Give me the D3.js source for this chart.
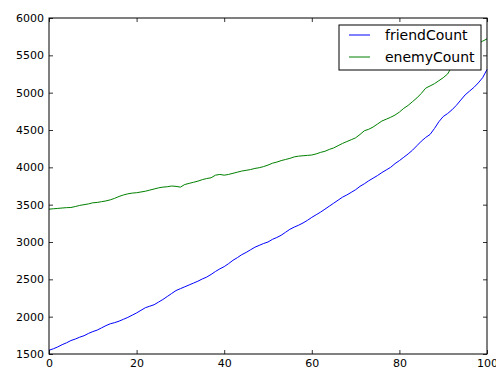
<!DOCTYPE html>
<style>
body {
    margin: 0;
    background: white;
}

text {
    font-family: "DejaVu Sans", sans-serif;
    fill: black;
}
</style>

<body>
    <script src="https://cdn.jsdelivr.net/npm/d3@7"></script>
    <div id="chart"></div>
    <script>
    // datos, x = 0..100
    var seriesNames = ["friendCount", "enemyCount"];
    var seriesColors = ["#0000ff", "#008000"];

    var friendCount = [
        1550, 1570, 1595, 1625, 1650, 1680, 1700, 1725, 1745, 1775,
        1800, 1820, 1850, 1880, 1905, 1920, 1940, 1965, 1990, 2020,
        2050, 2085, 2120, 2140, 2160, 2195, 2230, 2270, 2310, 2350,
        2375, 2400, 2425, 2450, 2475, 2505, 2530, 2565, 2605, 2640,
        2670, 2710, 2755, 2790, 2830, 2860, 2895, 2930, 2955, 2980,
        3000, 3035, 3060, 3090, 3130, 3170, 3200, 3225, 3255, 3290,
        3330, 3365, 3400, 3440, 3480, 3520, 3560, 3600, 3630, 3665,
        3700, 3745, 3780, 3820, 3855, 3890, 3930, 3965, 4000, 4050,
        4090, 4135, 4180, 4230, 4290, 4350, 4400, 4440, 4520, 4610,
        4680, 4720, 4770, 4830, 4900, 4970, 5020, 5070, 5130, 5200,
        5310
    ];

    var enemyCount = [
        3440, 3445, 3450, 3455, 3460, 3462, 3475, 3490, 3500, 3510,
        3525, 3530, 3540, 3550, 3565, 3585, 3610, 3630, 3645, 3655,
        3660, 3670, 3680, 3695, 3710, 3725, 3735, 3740, 3750, 3745,
        3735, 3770, 3785, 3800, 3815, 3835, 3850, 3860, 3895, 3905,
        3895, 3905, 3920, 3935, 3950, 3960, 3970, 3985, 3995, 4010,
        4030, 4055, 4070, 4090, 4105, 4120, 4140, 4150, 4155, 4160,
        4165, 4180, 4200, 4215, 4240, 4260, 4290, 4320, 4345, 4370,
        4395, 4440, 4490, 4510, 4540, 4580, 4620, 4645, 4670, 4700,
        4740, 4790, 4830, 4880, 4930, 4990, 5060, 5090, 5120, 5160,
        5200, 5250, 5350, 5420, 5480, 5530, 5580, 5620, 5660, 5690,
        5720
    ];

    var xTicks = [0, 20, 40, 60, 80, 100];
    var yTicks = [1500, 2000, 2500, 3000, 3500, 4000, 4500, 5000, 5500, 6000];

    var width = 496,
        height = 370;
    // ojo: "top" es window.top, por eso los nombres largos
    var plotLeft = 49,
        plotRight = 487,
        plotTop = 18,
        plotBottom = 354;

    var svg = d3.select("#chart")
        .append("svg")
        .attr("width", width)
        .attr("height", height);

    var x = d3.scaleLinear().domain([0, 100]).range([plotLeft, plotRight]);
    var y = d3.scaleLinear().domain([1500, 6000]).range([plotBottom, plotTop]);

    var line = d3.line()
        .x(function(d, i) { return x(i); })
        .y(function(d) { return y(d); });

    var allSeries = [friendCount, enemyCount];

    var plot = svg.append("g");

    plot.selectAll("path.serie")
        .data(allSeries)
        .enter()
        .append("path")
        .attr("class", "serie")
        .attr("d", line)
        .attr("fill", "none")
        .attr("stroke", function(d, i) { return seriesColors[i]; })
        .attr("stroke-width", 1);

    // ejes con ticks hacia dentro, sin separador de miles
    var fmt = d3.format("d");
    var axisBottom = d3.axisBottom(x).tickValues(xTicks).tickSize(-4).tickPadding(5).tickFormat(fmt);
    var axisTop = d3.axisTop(x).tickValues(xTicks).tickSize(-4).tickFormat("");
    var axisLeft = d3.axisLeft(y).tickValues(yTicks).tickSize(-4).tickPadding(5).tickFormat(fmt);
    var axisRight = d3.axisRight(y).tickValues(yTicks).tickSize(-4).tickFormat("");

    function styleAxis(g) {
        g.select(".domain").remove();
        g.selectAll("line").attr("stroke", "black").attr("stroke-width", 0.8);
        g.selectAll("text")
            .style("font-size", "11px")
            .style("font-family", "DejaVu Sans, sans-serif")
            .attr("fill", "black");
    }

    svg.append("g").attr("transform", "translate(0," + plotBottom + ")").call(axisBottom).call(styleAxis);
    svg.append("g").attr("transform", "translate(0," + plotTop + ")").call(axisTop).call(styleAxis);
    svg.append("g").attr("transform", "translate(" + plotLeft + ",0)").call(axisLeft).call(styleAxis);
    svg.append("g").attr("transform", "translate(" + plotRight + ",0)").call(axisRight).call(styleAxis);

    // marco
    svg.append("rect")
        .attr("x", plotLeft)
        .attr("y", plotTop)
        .attr("width", plotRight - plotLeft)
        .attr("height", plotBottom - plotTop)
        .attr("fill", "none")
        .attr("stroke", "black")
        .attr("stroke-width", 1);

    // leyenda
    var legend = svg.append("g").attr("transform", "translate(339,25)");

    legend.append("rect")
        .attr("width", 142)
        .attr("height", 45)
        .attr("fill", "white")
        .attr("stroke", "black")
        .attr("stroke-width", 1);

    seriesNames.forEach(function(name, i) {
        legend.append("line")
            .attr("x1", 10)
            .attr("x2", 31)
            .attr("y1", 10 + i * 22)
            .attr("y2", 10 + i * 22)
            .attr("stroke", seriesColors[i])
            .attr("stroke-width", 1);

        legend.append("text")
            .attr("x", 46)
            .attr("y", 10 + i * 22)
            .attr("dy", "0.35em")
            .style("font-size", "14px")
            .text(name);
    });
    </script>
</body>
